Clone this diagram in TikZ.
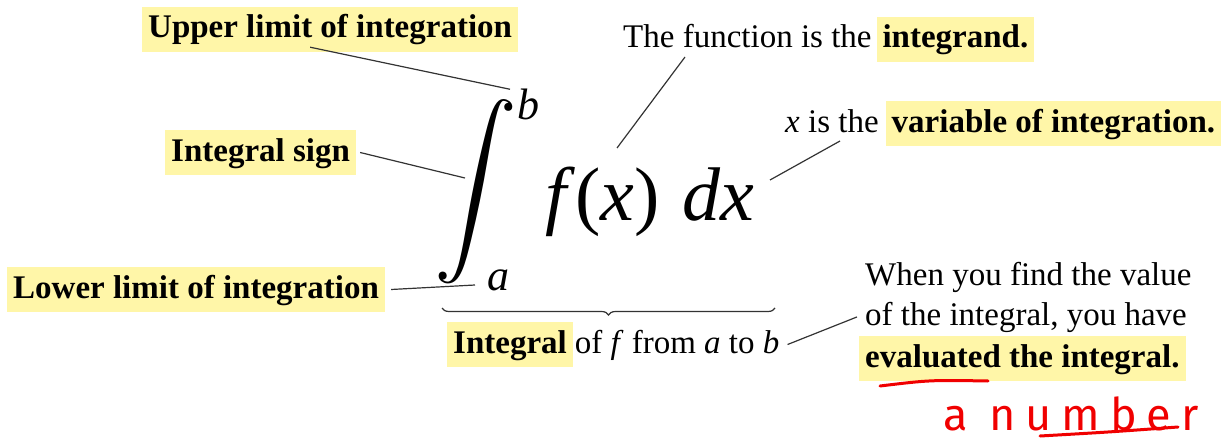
\documentclass[tikz,border=0pt]{standalone}
\usepackage{fontspec}
\setmainfont{Liberation Serif}
\newfontfamily\handfont{Fira Sans}
\usepackage{graphicx}
\definecolor{hlyellow}{RGB}{255, 246, 168}
\definecolor{inkred}{RGB}{240, 0, 0}
\usetikzlibrary{positioning, calc, decorations.pathreplacing}
\setlength{\fboxsep}{6pt}
\newcommand{\hl}[1]{\colorbox{hlyellow}{\rule[-8pt]{0pt}{33pt}\textbf{#1}}}

\begin{document}
\begin{tikzpicture}[x=1pt, y=-1pt, every node/.style={inner sep=0pt, font=\fontsize{33}{40}\selectfont},
    leader/.style={draw=black!80, line width=1.2pt},
    redink/.style={draw=inkred, line width=3pt, line cap=round}]
    \useasboundingbox (0,0) rectangle (1231,441);

    % the integral itself
    \node (intsign) at (476,192) {\scalebox{8.3}{$\displaystyle\int$}};
    \node [anchor=base west] (ulim) at (517,120) {\fontsize{44}{44}\selectfont\textit{b}};
    \node [anchor=base west] (llim) at (487,290) {\fontsize{44}{44}\selectfont\textit{a}};
    \node [anchor=base west] (integrand) at (545,220) {\fontsize{76}{76}\selectfont\textit{f}(\textit{x})\hspace{0.3em}\textit{dx}};

    % labels
    \node [anchor=base west] (upper) at (142,38) {\hl{Upper limit of integration}};
    \node [anchor=base west] (isign) at (165,161) {\hl{Integral sign}};
    \node [anchor=base west] (lower) at (7,298) {\hl{Lower limit of integration}};
    \node [anchor=base west] (func) at (623,48) {The function is the\hspace{5pt}\hl{integrand.}};
    \node [anchor=base west] (xvar) at (785,132) {\textit{x} is the\hspace{7pt}\hl{variable of integration.}};
    \node [anchor=base west] (intof) at (447,353) {\hl{Integral}\hspace{2pt}of \textit{f} from \textit{a} to \textit{b}};

    \node [anchor=base west] (evl1) at (865,285) {When you find the value};
    \node [anchor=base west] (evl2) at ($(evl1.base west)+(0,40)$) {of the integral, you have};
    \node [anchor=base west] (evl3) at ($(evl2.base west)+(-6,42)$) {\hl{evaluated the integral.}};

    % handwritten note
    \node [anchor=base west, text=inkred] (anote) at (943,430) {\handfont\addfontfeatures{LetterSpace=22}\fontsize{45}{45}\selectfont a number};

    % leader lines
    \coordinate (int-mid) at (465,178);
    \coordinate (int-foot) at (475,285);
    \coordinate (func-tail) at (685,57);
    \coordinate (f-top) at (617,148);
    \coordinate (xvar-tail) at (840,141);
    \coordinate (dx-end) at (770,180);
    \draw [leader] ([xshift=-20pt, yshift=5pt]upper.south) -- ([xshift=-7pt]ulim.north west);
    \draw [leader] ([xshift=4pt]isign.east) -- (int-mid);
    \draw [leader] ([xshift=6pt]lower.east) -- (int-foot);
    \draw [leader] (func-tail) -- (f-top);
    \draw [leader] (xvar-tail) -- (dx-end);
    \draw [leader] ([xshift=8pt]intof.east) -- ([xshift=-8pt]evl2.west);

    % brace under the integral
    \coordinate (brace-l) at (442,308);
    \coordinate (brace-r) at (775,308);
    \draw [leader, decorate, decoration={brace, mirror, amplitude=7pt}] (brace-l) -- (brace-r);

    % red pen strokes
    \coordinate (ul1-a) at (880,386);
    \coordinate (ul1-b) at (988,381);
    \coordinate (ul2-a) at (1040,436);
    \coordinate (ul2-b) at (1178,427);
    \draw [redink] (ul1-a) .. controls (930,380) .. (ul1-b);
    \draw [redink] (ul2-a) .. controls (1110,432) .. (ul2-b);
\end{tikzpicture}
\end{document}
